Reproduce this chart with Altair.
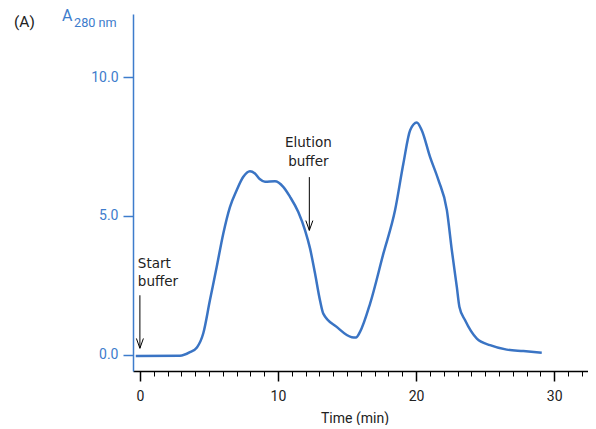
import altair as alt
import pandas as pd

# Chromatogram trace (time in min, absorbance A280)
time_min = [-0.3, 2.9, 3.62, 4.13, 4.59, 5.07, 5.56, 6.04, 6.52, 7.01, 7.49, 7.97,
            8.33, 8.70, 9.06, 9.78, 10.38, 10.87, 11.47, 11.96, 12.32, 12.68, 13.04,
            13.28, 14.25, 15.34, 15.65, 15.94, 16.67, 17.63, 18.48, 19.08, 19.57,
            20.05, 20.41, 21.01, 21.62, 22.23, 22.59, 22.95, 23.14, 23.55, 24.40,
            25.36, 26.57, 27.77, 29.10]
absorbance = [-0.05, -0.04, 0.09, 0.26, 0.77, 1.96, 3.16, 4.37, 5.32, 5.93, 6.41, 6.61,
              6.53, 6.32, 6.23, 6.25, 6.05, 5.69, 5.14, 4.48, 3.83, 2.93, 1.96,
              1.48, 1.0, 0.63, 0.62, 0.82, 1.84, 3.64, 5.21, 6.89, 8.09,
              8.37, 8.09, 7.13, 6.29, 5.21, 3.76, 2.44, 1.72, 1.24, 0.58,
              0.34, 0.18, 0.13, 0.07]

# Annotations: label, text x, text baseline y, arrow x, arrow top, arrow tip, alignment
ann_labels = [["Start", "buffer"], ["Elution", "buffer"]]
ann_text_x = [-0.15, 12.2]
ann_text_y = [3.14, 7.49]
ann_align = ["left", "center"]
arrow_x = [0.0, 12.27]
arrow_top = [2.14, 6.4]
arrow_tip = [0.23, 4.48]

y_ticks = [0, 5, 10]
x_ticks = list(range(0, 33))

BLUE = "#3a74c4"
AXBLUE = "#3d7ccc"
DARK = "#222222"

trace = pd.DataFrame({"t": time_min, "a": absorbance})
arrows = pd.DataFrame({"x": arrow_x, "top": arrow_top, "tip": arrow_tip})

xscale = alt.Scale(domain=[-0.5, 32.45], nice=False, zero=False)
yscale = alt.Scale(domain=[-0.59, 12.28], nice=False, zero=False)

xaxis = alt.Axis(
    values=x_ticks,
    tickSize={"condition": {"test": "datum.value % 10 === 0", "value": 10}, "value": 5},
    tickWidth={"condition": {"test": "datum.value % 10 === 0", "value": 1.5}, "value": 1},
    labelExpr="datum.value % 10 === 0 ? datum.label : ''",
    labelOverlap=False,
    domainColor="#000000", tickColor="#000000", domainWidth=1.5,
    labelColor=DARK, labelFont="Roboto", labelFontSize=14, labelPadding=8,
    title="Time (min)", titleFont="Roboto", titleFontSize=14, titleFontWeight="normal",
    titleColor=DARK, titlePadding=8, titleX=221.5, titleAlign="center",
    grid=False, labelFlush=False,
)
yaxis = alt.Axis(
    values=y_ticks, format=".1f",
    domainColor=AXBLUE, tickColor=AXBLUE, domainWidth=1.5, tickWidth=1.5, tickSize=10,
    labelColor=AXBLUE, labelFont="Roboto", labelFontSize=14, labelPadding=5,
    title=None, grid=False, labelFlush=False,
)


def X(field):
    return alt.X(field, type="quantitative", scale=xscale, axis=xaxis, title="Time (min)")


def Y(field):
    return alt.Y(field, type="quantitative", scale=yscale, axis=yaxis, title=None)


line = alt.Chart(trace).mark_line(color=BLUE, strokeWidth=2.5, interpolate="monotone").encode(
    x=X("t"), y=Y("a"),
)

rules = alt.Chart(arrows).mark_rule(color="#000000", strokeWidth=1).encode(
    x=X("x"), y=Y("top"), y2="tip:Q"
)
heads = alt.Chart(arrows).mark_point(
    shape="M-0.5,-1.4L0,0L0.5,-1.4", size=196, filled=False, color="#000000",
    strokeWidth=1, opacity=1,
).encode(x=X("x"), y=Y("tip"))

texts = []
for lab, tx, ty, al in zip(ann_labels, ann_text_x, ann_text_y, ann_align):
    df = pd.DataFrame({"x": [tx], "y": [ty], "label": [lab]})
    texts.append(
        alt.Chart(df).mark_text(
            align=al, baseline="alphabetic", font="DejaVu Sans", fontSize=13.5,
            lineHeight=18.7, color=DARK,
        ).encode(x=X("x"), y=Y("y"), text="label")
    )

panel = alt.Chart(pd.DataFrame({"k": [0]})).mark_text(
    text="(A)", align="left", baseline="alphabetic", font="Roboto", fontSize=15.5, color=DARK
).encode(x=alt.value(-119), y=alt.value(12.7))
a_main = alt.Chart(pd.DataFrame({"k": [0]})).mark_text(
    text="A", align="left", baseline="alphabetic", font="Roboto", fontSize=16, color=AXBLUE
).encode(x=alt.value(-71), y=alt.value(6.5))
a_sub = alt.Chart(pd.DataFrame({"k": [0]})).mark_text(
    text="280 nm", align="left", baseline="alphabetic", font="Roboto", fontSize=12.7, color=AXBLUE
).encode(x=alt.value(-59), y=alt.value(13.3))

chart = alt.layer(line, rules, heads, *texts, panel, a_main, a_sub).properties(
    width=455, height=357,
    autosize=alt.AutoSizeParams(type="none"),
    padding={"left": 125, "top": 6, "right": 0, "bottom": 54},
    background="white",
).configure_view(stroke=None)

chart.save("out.html", embed_options={"renderer": "svg", "actions": False})
